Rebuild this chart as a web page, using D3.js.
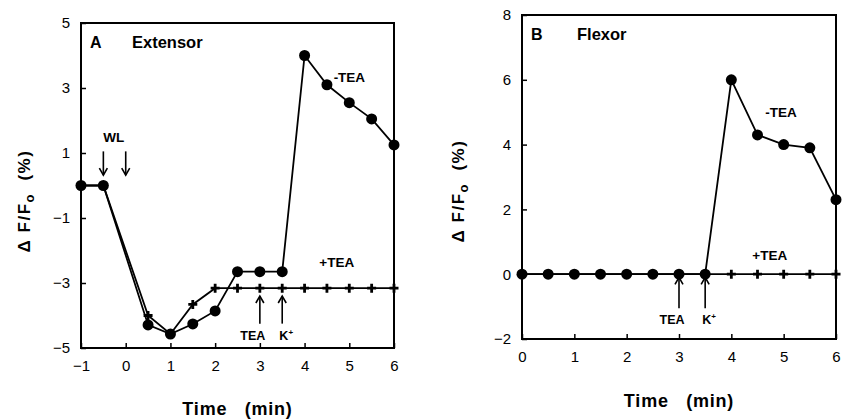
<!DOCTYPE html>
<html>
<head>
<meta charset="utf-8">
<script src="https://cdn.jsdelivr.net/npm/d3@7"></script>
<style>
    body { margin: 0; background: #fff; }
    svg { display: block; font-family: "Liberation Sans", Arial, sans-serif; }
    .frame { fill: none; stroke: black; stroke-width: 2; }
    .tick line { stroke: black; stroke-width: 1.5; }
    .tick text { font-size: 15px; fill: black; }
    .series { fill: none; stroke: black; stroke-width: 1.8; }
    .plus { stroke: black; stroke-width: 2.8; fill: none; }
    .note { font-weight: bold; fill: black; }
</style>
</head>
<body>
<div id="chart"></div>
<script>
// panel A : extensor
var timeA      = [-1, -0.5, 0.5, 1, 1.5, 2, 2.5, 3, 3.5, 4, 4.5, 5, 5.5, 6];
var minusTeaA  = [0, 0, -4.29, -4.57, -4.26, -3.86, -2.65, -2.65, -2.65, 4.0, 3.1, 2.55, 2.05, 1.25];
var plusTeaA   = [0, 0, -4.0, -4.57, -3.66, -3.16, -3.16, -3.16, -3.16, -3.16, -3.16, -3.16, -3.16, -3.16];
var xTicksA    = [-1, 0, 1, 2, 3, 4, 5, 6];
var yTicksA    = [-5, -3, -1, 1, 3, 5];

// panel B : flexor
var timeB      = [0, 0.5, 1, 1.5, 2, 2.5, 3, 3.5, 4, 4.5, 5, 5.5, 6];
var minusTeaB  = [0, 0, 0, 0, 0, 0, 0, 0, 6.0, 4.3, 4.0, 3.9, 2.3];
var plusTeaB   = [0, 0, 0, 0, 0, 0, 0, 0, 0, 0, 0, 0, 0];
var xTicksB    = [0, 1, 2, 3, 4, 5, 6];
var yTicksB    = [-2, 0, 2, 4, 6, 8];

var width = 843, height = 420;
var svg = d3.select("#chart").append("svg")
    .attr("width", width)
    .attr("height", height);

function fmt(d) { return d < 0 ? "\u2212" + Math.abs(d) : String(d); }

function arrow(g, x, y1, y2) {
    // y1 = tail, y2 = tip
    var dir = y2 > y1 ? 1 : -1;
    g.append("line").attr("x1", x).attr("x2", x).attr("y1", y1).attr("y2", y2)
        .attr("stroke", "black").attr("stroke-width", 1.6);
    g.append("path")
        .attr("d", "M" + (x - 4) + "," + (y2 - dir * 7) + "L" + x + "," + y2 + "L" + (x + 4) + "," + (y2 - dir * 7))
        .attr("fill", "none").attr("stroke", "black").attr("stroke-width", 1.6);
}

function panel(p) {
    var g = svg.append("g");
    var x = d3.scaleLinear().domain(p.xDomain).range(p.xRange);
    var y = d3.scaleLinear().domain(p.yDomain).range(p.yRange);

    g.append("g").attr("transform", "translate(0," + p.yRange[0] + ")")
        .call(d3.axisBottom(x).tickValues(p.xTicks).tickSizeInner(-5).tickSizeOuter(0).tickPadding(12).tickFormat(fmt))
        .call(function(a) { a.select(".domain").remove(); });
    g.append("g").attr("transform", "translate(" + p.xRange[0] + ",0)")
        .call(d3.axisLeft(y).tickValues(p.yTicks).tickSizeInner(-5).tickSizeOuter(0).tickPadding(11).tickFormat(fmt))
        .call(function(a) { a.select(".domain").remove(); });

    g.append("rect").attr("class", "frame")
        .attr("x", p.xRange[0]).attr("y", p.yRange[1])
        .attr("width", p.xRange[1] - p.xRange[0]).attr("height", p.yRange[0] - p.yRange[1]);

    var line = d3.line().x(function(d) { return x(d[0]); }).y(function(d) { return y(d[1]); });
    var plusPts = d3.zip(p.time, p.plus);
    var minusPts = d3.zip(p.time, p.minus);

    g.append("path").attr("class", "series").attr("d", line(plusPts));
    g.append("path").attr("class", "series").attr("d", line(minusPts));

    g.selectAll(".plus").data(plusPts).enter().append("path").attr("class", "plus")
        .attr("d", function(d) { var cx = x(d[0]), cy = y(d[1]);
            return "M" + (cx - 4.5) + "," + cy + "H" + (cx + 4.5) + "M" + cx + "," + (cy - 4.5) + "V" + (cy + 4.5); });
    g.selectAll(".dot").data(minusPts).enter().append("circle").attr("class", "dot")
        .attr("cx", function(d) { return x(d[0]); })
        .attr("cy", function(d) { return y(d[1]); })
        .attr("r", 5.5).attr("fill", "black");

    // axis titles
    g.append("text").attr("class", "note")
        .attr("x", (p.xRange[0] + p.xRange[1]) / 2).attr("y", p.yRange[0] + p.titleDrop)
        .attr("text-anchor", "middle").attr("font-size", 18).attr("letter-spacing", 0.8)
        .attr("xml:space", "preserve")
        .text("Time   (min)");

    var yl = g.append("text").attr("class", "note")
        .attr("transform", "translate(" + p.yLabelX + "," + p.yLabelY + ") rotate(-90)")
        .attr("text-anchor", "middle").attr("font-size", 17).attr("letter-spacing", 1.5)
        .attr("xml:space", "preserve");
    yl.append("tspan").text("\u0394 F/F");
    yl.append("tspan").attr("dy", 4).attr("font-size", 13).text("o");
    yl.append("tspan").attr("dy", -4).text("  (%)");

    // panel letter + name
    g.append("text").attr("class", "note").attr("x", p.xRange[0] + 9).attr("y", p.yRange[1] + 25)
        .attr("font-size", 16).text(p.letter);
    g.append("text").attr("class", "note").attr("x", p.xRange[0] + p.nameShift).attr("y", p.yRange[1] + 25)
        .attr("font-size", 16.5).text(p.name);

    // -TEA / +TEA labels
    g.append("text").attr("class", "note").attr("x", x(p.minusLabel[0])).attr("y", y(p.minusLabel[1]))
        .attr("font-size", 13.5).text("-TEA");
    g.append("text").attr("class", "note").attr("x", x(p.plusLabel[0])).attr("y", y(p.plusLabel[1]))
        .attr("font-size", 13.5).text("+TEA");

    // TEA and K+ arrows
    arrow(g, x(3), y(p.arrowLow), y(p.arrowTip));
    arrow(g, x(3.5), y(p.arrowLow), y(p.arrowTip));
    g.append("text").attr("class", "note").attr("x", x(3) - 7).attr("y", y(p.arrowLow) + 16)
        .attr("text-anchor", "middle").attr("font-size", 12.5).text("TEA");
    var k = g.append("text").attr("class", "note").attr("x", x(3.5) + 4).attr("y", y(p.arrowLow) + 16)
        .attr("text-anchor", "middle").attr("font-size", 12.5);
    k.append("tspan").text("K");
    k.append("tspan").attr("dy", -5).attr("font-size", 8).text("+");

    return { g: g, x: x, y: y };
}

var a = panel({
    xDomain: [-1, 6], xRange: [81, 394],
    yDomain: [-5, 5], yRange: [348, 23],
    xTicks: xTicksA, yTicks: yTicksA,
    time: timeA, minus: minusTeaA, plus: plusTeaA,
    letter: "A", name: "Extensor", nameShift: 51,
    minusLabel: [4.65, 3.2], plusLabel: [4.33, -2.5],
    arrowTip: -3.4, arrowLow: -4.25,
    titleDrop: 67, yLabelX: 30, yLabelY: 201
});

// WL arrows (wash-out) on panel A
arrow(a.g, a.x(-0.5), a.y(1.05), a.y(0.32));
arrow(a.g, a.x(0), a.y(1.05), a.y(0.32));
a.g.append("text").attr("class", "note").attr("x", a.x(-0.27)).attr("y", a.y(1.35))
    .attr("text-anchor", "middle").attr("font-size", 13.5).text("WL");

panel({
    xDomain: [0, 6], xRange: [522, 836],
    yDomain: [-2, 8], yRange: [339, 15],
    xTicks: xTicksB, yTicks: yTicksB,
    time: timeB, minus: minusTeaB, plus: plusTeaB,
    letter: "B", name: "Flexor", nameShift: 55,
    minusLabel: [4.65, 4.85], plusLabel: [4.4, 0.45],
    arrowTip: -0.1, arrowLow: -1.05,
    titleDrop: 68, yLabelX: 464, yLabelY: 191
});
</script>
</body>
</html>
